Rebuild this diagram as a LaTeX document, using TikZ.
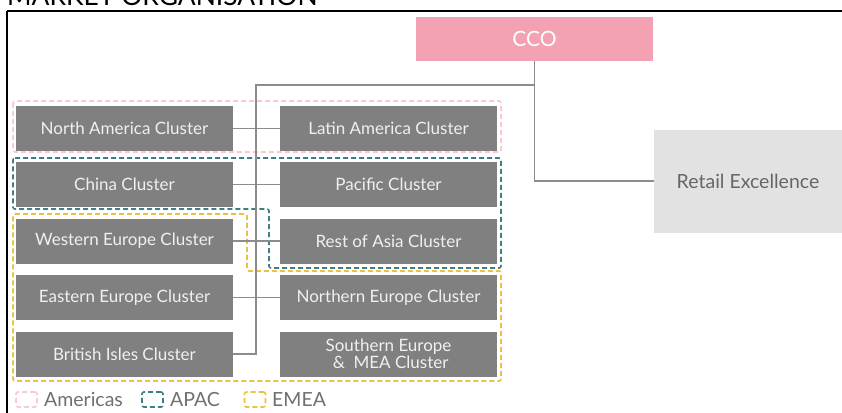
\documentclass[tikz,border=0pt]{standalone}
\usepackage{fontspec}
\setmainfont{Lato}
\usetikzlibrary{positioning}
\definecolor{boxgray}{HTML}{808080}
\definecolor{boxtext}{HTML}{F0F0F0}
\definecolor{ccopink}{HTML}{F2A2B2}
\definecolor{retfill}{HTML}{E1E2E1}
\definecolor{rettext}{HTML}{666666}
\definecolor{linegray}{HTML}{8C8C8C}
\definecolor{amerpink}{HTML}{F9C9D4}
\definecolor{apacteal}{HTML}{3E7E84}
\definecolor{emeayel}{HTML}{EEC040}
\definecolor{legtext}{HTML}{707070}
\tikzset{
  cluster/.style={fill=boxgray, text=boxtext, minimum width=217pt, minimum height=45pt,
    inner sep=0pt, align=center, font=\fontsize{17}{17}\selectfont},
  conn/.style={draw=linegray, line width=1.5pt},
  grp/.style={dash pattern=on 5pt off 3pt, line width=1.6pt, rounded corners=2pt},
  legbox/.style={grp, minimum width=21pt, minimum height=15pt, inner sep=0pt},
  legtxt/.style={text=legtext, anchor=west, inner sep=0pt, font=\fontsize{19.5}{19.5}\selectfont}
}
\begin{document}
\begin{tikzpicture}[x=1pt,y=-1pt]
\useasboundingbox (0,0) rectangle (842,412);
\fill[white] (0,0) rectangle (842,412);
% title and frame
\node[anchor=base west, inner sep=0pt, font=\fontsize{26.4}{26.4}\selectfont] (title) at (7,6) {MARKET ORGANISATION};
\draw[black, line width=2pt] (7,11) -- (860,11);
\draw[black, line width=2pt] (7,11) -- (7,430);
% group outlines
\draw[grp, amerpink] (13,101) rectangle (501,152);
\draw[grp, apacteal] (13,158) -- (501,158) -- (501,268) -- (269,268) -- (269,209) -- (13,209) -- cycle;
\draw[grp, emeayel] (13,214) -- (247,214) -- (247,271) -- (501,271) -- (501,381) -- (13,381) -- cycle;
% top nodes
\node[fill=ccopink, text=white, minimum width=237pt, minimum height=44pt, inner sep=0pt, font=\fontsize{21}{21}\selectfont] (cco) at (534.5,39) {CCO};
\node[fill=retfill, text=rettext, minimum width=188pt, minimum height=103pt, inner sep=0pt, font=\fontsize{19.5}{19.5}\selectfont] (ret) at (748,181) {Retail Excellence};
% clusters
\node[cluster] (na) at (124.5,128.5) {North America Cluster};
\node[cluster] (la) at (388.5,128.5) {Latin America Cluster};
\node[cluster] (cn) at (124.5,184.5) {China Cluster};
\node[cluster] (pc) at (388.5,184.5) {Pacific Cluster};
\node[cluster] (we) at (124.5,241) {Western Europe Cluster};
\node[cluster] (ra) at (388.5,241) {Rest of Asia Cluster};
\node[cluster] (ee) at (124.5,297.5) {Eastern Europe Cluster};
\node[cluster] (ne) at (388.5,297.5) {Northern Europe Cluster};
\node[cluster] (bi) at (124.5,354) {British Isles Cluster};
\node[cluster, font=\fontsize{17}{17}\selectfont] (se) at (388.5,354) {Southern Europe\\\ \& \ MEA Cluster};
% connectors
\coordinate (top) at (256,85);
\coordinate (jn) at (256,354);
\draw[conn] (cco.south) -- (cco.south |- top) -- (top) -- (jn) -- (bi.east);
\draw[conn] (cco.south) |- (ret.west);
\draw[conn] (na.east) -- (la.west);
\draw[conn] (cn.east) -- (pc.west);
\draw[conn] (we.east) -- (ra.west);
\draw[conn] (ee.east) -- (ne.west);
% legend
\node[legbox, draw=amerpink] (lam) at (26.5,399.5) {};
\node[legtxt] (tam) at (44,399.5) {Americas};
\node[legbox, draw=apacteal] (lap) at (152.5,399.5) {};
\node[legtxt] (tap) at (170,399.5) {APAC};
\node[legbox, draw=emeayel] (lem) at (255,399.5) {};
\node[legtxt] (tem) at (272,399.5) {EMEA};
\end{tikzpicture}
\end{document}
